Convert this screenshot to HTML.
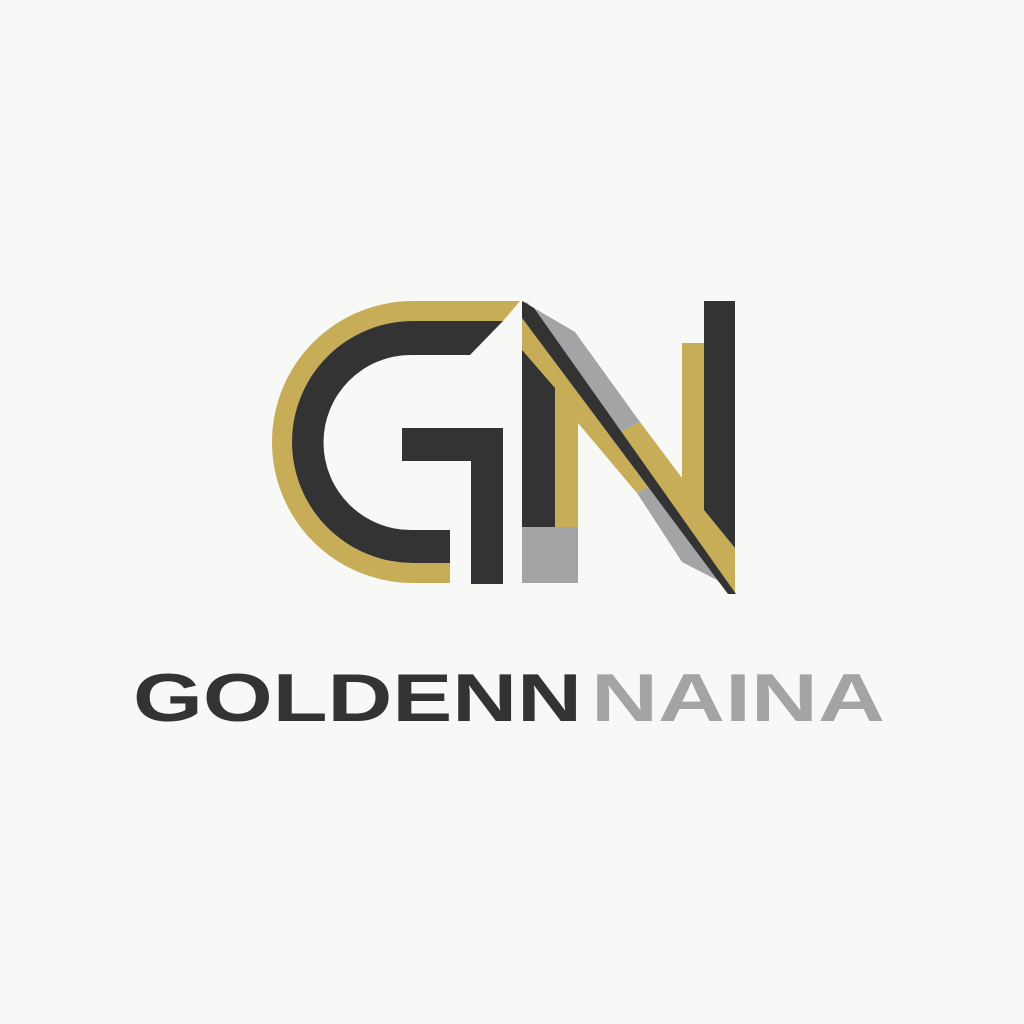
<!DOCTYPE html>
<html><head><meta charset="utf-8"><style>
html,body{margin:0;padding:0;background:#f8f8f7;}
svg{display:block;}
</style></head><body>
<svg width="1024" height="1024" viewBox="0 0 1024 1024" xmlns="http://www.w3.org/2000/svg">
<rect x="0" y="0" width="1024" height="1024" fill="#f8f8f7"/>
<g>
  <path fill="#c8ad58" d="M520,301 L413,301 A141,141 0 0 0 413,583 L450,583 L450,563 L413,563 A121,121 0 0 1 413,321 L503,321 Z"/>
  <path fill="#333333" d="M503,321 L413,321 A121,121 0 0 0 413,563 L450,563 L450,530 L411,530 A87.5,87.5 0 0 1 411,355 L470,355 Z"/>
  <rect x="402" y="428" width="101" height="33" fill="#333333"/>
  <rect x="471" y="428" width="32" height="156" fill="#333333"/>
</g>
<g>
  <polygon fill="#333333" points="522,340 555,385 555,527 522,527"/>
  <rect x="522" y="527" width="56" height="56" fill="#a3a4a6"/>
  <polygon fill="#a3a4a6" points="522,301 575,332 640,422 620,432 528,303"/>
  <polygon fill="#c8ad58" points="620,432 640,422 682,478 682,343 704,343 704,510 735,548 735,594 728,594"/>
  <polygon fill="#333333" points="704,301 735,301 735,548 704,510"/>
  <polygon fill="#c8ad58" points="522,318 648,487 637,493 578,423 578,527 555,527 555,388 522,350"/>
  <polygon fill="#a3a4a6" points="637,493 648,487 730,594 717,580 682,562"/>
  <polygon fill="#333333" points="522,301 534,308 736,594 728,594 522,318"/>
</g>
<text x="133" y="721" font-family="Liberation Sans, sans-serif" font-weight="bold" font-size="68" fill="#333333" textLength="449" lengthAdjust="spacingAndGlyphs">GOLDENN</text>
<text x="591" y="721" font-family="Liberation Sans, sans-serif" font-weight="bold" font-size="68" fill="#a3a4a6" textLength="294" lengthAdjust="spacingAndGlyphs">NAINA</text>
</svg>
</body></html>
